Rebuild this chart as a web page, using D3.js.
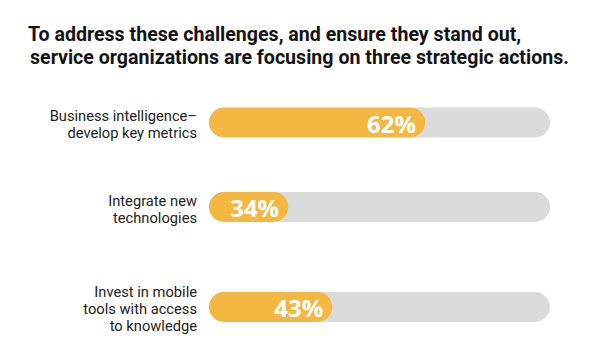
<!DOCTYPE html>
<html>
<head>
<meta charset="utf-8">
<script src="https://cdn.jsdelivr.net/npm/d3@7"></script>
<style>
  html, body { margin: 0; padding: 0; background: #ffffff; }
  svg { display: block; }
</style>
</head>
<body>
<svg id="chart" width="600" height="359"></svg>
<script>
// ---- data ----
const titleLines = [
  "To address these challenges, and ensure they stand out,",
  "service organizations are focusing on three strategic actions."
];
const categories = [
  "Business intelligence\u2013\ndevelop key metrics",
  "Integrate new\ntechnologies",
  "Invest in mobile\ntools with access\nto knowledge"
];
const values = [62, 34, 43];
const valueLabels = ["62%", "34%", "43%"];

// ---- layout ----
const W = 600, H = 359;
const trackX0 = 209, trackX1 = 550, barH = 30;
const rowCenters = [122.5, 207, 307];
const orange = "#F3B742", track = "#DADADA";

const svg = d3.select("#chart");
svg.append("rect").attr("width", W).attr("height", H).attr("fill", "#fff");

const x = d3.scaleLinear().domain([0, 100]).range([122, 611]);
const y = d3.scaleOrdinal().domain(categories).range(rowCenters);

// title
const title = svg.append("text")
  .attr("font-family", "Roboto, 'Noto Sans', sans-serif")
  .attr("font-weight", 700)
  .attr("font-size", 19.6)
  .attr("fill", "#141414");
title.selectAll("tspan").data(titleLines).join("tspan")
  .attr("x", (d, i) => i === 0 ? 28 : 30)
  .attr("y", (d, i) => 40.5 + i * 23.5)
  .text(d => d);

// clip paths per track
const defs = svg.append("defs");
categories.forEach((c, i) => {
  defs.append("clipPath").attr("id", "clip" + i)
    .append("rect")
    .attr("x", trackX0).attr("y", y(c) - barH / 2)
    .attr("width", trackX1 - trackX0).attr("height", barH)
    .attr("rx", barH / 2).attr("ry", barH / 2);
});

const rows = svg.selectAll("g.row").data(categories).join("g").attr("class", "row");

rows.append("rect")
  .attr("x", trackX0).attr("y", d => y(d) - barH / 2)
  .attr("width", trackX1 - trackX0).attr("height", barH)
  .attr("rx", barH / 2).attr("ry", barH / 2)
  .attr("fill", track);

rows.append("rect")
  .attr("clip-path", (d, i) => `url(#clip${i})`)
  .attr("x", x(0)).attr("y", d => y(d) - barH / 2)
  .attr("width", (d, i) => x(values[i]) - x(0)).attr("height", barH)
  .attr("rx", barH / 2).attr("ry", barH / 2)
  .attr("fill", orange);

rows.append("text")
  .attr("x", (d, i) => x(values[i]) - 9)
  .attr("y", d => y(d) + 10)
  .attr("text-anchor", "end")
  .attr("font-family", "'Open Sans', Roboto, sans-serif")
  .attr("font-weight", 700)
  .attr("font-size", 24)
  .attr("fill", "#ffffff")
  .text((d, i) => valueLabels[i]);

// category labels
const lineH = 17.2;
rows.each(function(d) {
  const lines = d.split("\n");
  const n = lines.length;
  const cy = y(d) + 2;
  const t = d3.select(this).append("text")
    .attr("text-anchor", "end")
    .attr("font-family", "Roboto, 'Noto Sans', sans-serif")
    .attr("font-size", 14.7)
    .attr("fill", "#222222");
  t.selectAll("tspan").data(lines).join("tspan")
    .attr("x", 197)
    .attr("y", (l, j) => cy + 5.2 + (j - (n - 1) / 2) * lineH)
    .text(l => l);
});
</script>
</body>
</html>
